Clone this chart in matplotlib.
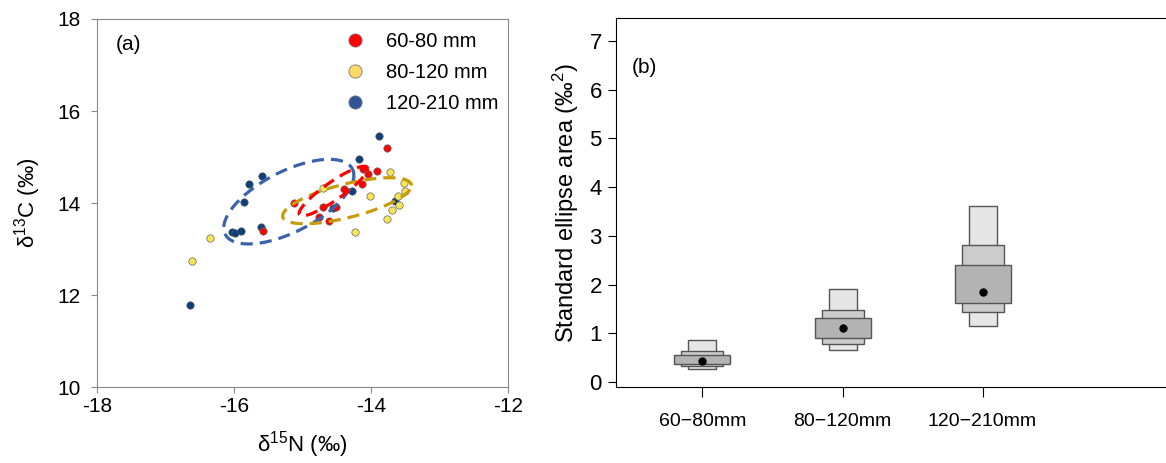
import matplotlib.pyplot as plt
import numpy as np
from matplotlib.lines import Line2D

plt.rcParams['font.family'] = ['Liberation Sans', 'DejaVu Sans']
plt.rcParams['mathtext.fontset'] = 'custom'
plt.rcParams['mathtext.rm'] = 'Liberation Sans'
plt.rcParams['mathtext.it'] = 'Liberation Sans:italic'
plt.rcParams['axes.unicode_minus'] = False

# panel (a) isotope values
red_n = [-13.76, -14.12, -14.05, -13.91, -14.13, -15.12, -14.70, -14.51, -14.76, -14.61, -15.58, -14.40]
red_c = [15.19, 14.75, 14.64, 14.70, 14.42, 13.99, 13.91, 13.91, 13.70, 13.61, 13.39, 14.30]
yel_n = [-13.72, -13.52, -13.51, -13.60, -13.59, -13.69, -13.77, -14.02, -14.23, -14.70, -16.35, -16.62]
yel_c = [14.67, 14.44, 14.26, 14.16, 13.96, 13.85, 13.66, 14.16, 13.38, 14.33, 13.25, 12.75]
blu_n = [-13.89, -14.17, -15.59, -15.78, -15.86, -16.03, -15.99, -15.90, -15.61, -14.55, -14.28, -13.65, -16.64]
blu_c = [15.46, 14.96, 14.59, 14.41, 14.03, 13.36, 13.34, 13.39, 13.48, 13.90, 14.26, 14.04, 11.78]

# standard ellipses: centre x, centre y, half width, half height, correlation
ell_red = [-14.55, 14.26, 0.50, 0.54, 0.90]
ell_yel = [-14.35, 14.05, 0.94, 0.50, 0.66]
ell_blu = [-15.20, 14.03, 0.95, 0.92, 0.62]

# panel (b) SEA credible intervals (95%, 75%, 50%) and modes
groups = ['60\u221280mm', '80\u2212120mm', '120\u2212210mm']
ci95_lo = [0.27, 0.67, 1.16]
ci95_hi = [0.86, 1.92, 3.61]
ci75_lo = [0.34, 0.79, 1.44]
ci75_hi = [0.64, 1.49, 2.81]
ci50_lo = [0.38, 0.91, 1.62]
ci50_hi = [0.56, 1.31, 2.40]
mode = [0.43, 1.11, 1.84]


def ellipse(p):
    t = np.linspace(0, 2 * np.pi, 200)
    cx, cy, w, h, r = p
    return cx + w * np.cos(t), cy + h * (r * np.cos(t) + np.sqrt(1 - r ** 2) * np.sin(t))


fig = plt.figure(figsize=(11.66, 4.63), dpi=100)

# ----- panel (a)
ax = fig.add_axes([0.0832, 0.164, 0.3525, 0.795])
ax.scatter(blu_n, blu_c, s=28, color='#0d3f7c', edgecolor='#555555', linewidth=0.5, zorder=3)
ax.scatter(yel_n, yel_c, s=28, color='#f7e654', edgecolor='#666666', linewidth=0.5, zorder=3)
ax.scatter(red_n, red_c, s=28, color='#ff0000', edgecolor='#666666', linewidth=0.5, zorder=3)
for p, c in [(ell_blu, '#3a62ad'), (ell_yel, '#c89b0a'), (ell_red, '#ff0000')]:
    ex, ey = ellipse(p)
    ax.plot(ex, ey, color=c, lw=2.3, dashes=(3.8, 2.2), zorder=4)
ax.set_xlim(-18, -12)
ax.set_ylim(10, 18)
ax.set_xticks([-18, -16, -14, -12])
ax.set_yticks([10, 12, 14, 16, 18])
for s in ax.spines.values():
    s.set_color('#888888')
ax.tick_params(colors='#888888', labelcolor='black', labelsize=15, length=4)
ax.tick_params(axis='y', pad=8)
ax.set_xlabel('\u03b4$^{\\mathrm{15}}$N (\u2030)', fontsize=16, labelpad=9)
ax.set_ylabel('\u03b4$^{\\mathrm{13}}$C (\u2030)', fontsize=16, labelpad=10)
ax.text(0.045, 0.915, '(a)', transform=ax.transAxes, fontsize=15)
handles = [Line2D([], [], marker='o', ls='', markersize=9.5, markerfacecolor=c,
                  markeredgecolor='#777777', markeredgewidth=0.6)
           for c in ['#ff0000', '#ffd966', '#2f5597']]
ax.legend(handles, ['60-80 mm', '80-120 mm', '120-210 mm'], loc='upper left',
          bbox_to_anchor=(0.535, 1.015), frameon=False, fontsize=14.5,
          handletextpad=0.55, labelspacing=0.6)

# ----- panel (b)
bx = fig.add_axes([0.528, 0.164, 0.472, 0.797])
x = np.arange(1, len(groups) + 1)
bx.bar(x, np.subtract(ci95_hi, ci95_lo), bottom=ci95_lo, width=0.2, color='#e6e6e6',
       edgecolor='#555555', linewidth=1)
bx.bar(x, np.subtract(ci75_hi, ci75_lo), bottom=ci75_lo, width=0.3, color='#cccccc',
       edgecolor='#555555', linewidth=1)
bx.bar(x, np.subtract(ci50_hi, ci50_lo), bottom=ci50_lo, width=0.4, color='#b3b3b3',
       edgecolor='#555555', linewidth=1)
bx.plot(x, mode, 'o', color='black', markersize=5)
bx.set_xlim(0.38, 4.31)
bx.set_ylim(-0.1, 7.47)
bx.set_xticks(x)
bx.set_xticklabels(groups)
bx.set_yticks(range(8))
bx.spines['right'].set_visible(False)
bx.tick_params(axis='y', labelsize=16, length=6, pad=4)
bx.tick_params(axis='x', labelsize=14, length=7, pad=12)
bx.set_ylabel('Standard ellipse area (\u2030$^{\\mathrm{2}}$)', fontsize=17, labelpad=6)
bx.text(0.03, 0.85, '(b)', transform=bx.transAxes, fontsize=15)

fig.savefig('out.png', dpi=100)
